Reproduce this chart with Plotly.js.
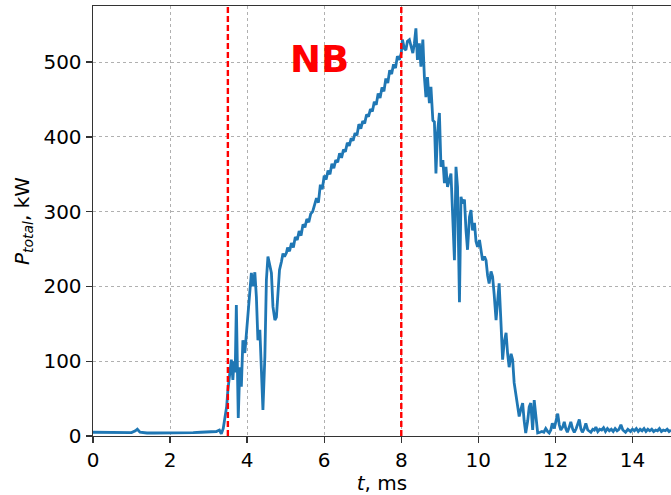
<!DOCTYPE html>
<html>
<head>
<meta charset="utf-8">
<script src="https://cdn.plot.ly/plotly-3.0.1.min.js"></script>
<style>html,body{margin:0;padding:0;background:#fff;}#chart{width:671px;height:495px;}</style>
</head>
<body>
<div id="chart"></div>
<script>
// time in ms
const tMs = [
0.0,0.2,0.4,0.6,0.8,1.0,1.1,1.15,1.22,1.4,1.6,1.8,2.0,2.2,2.4,2.6,2.8,3.0,3.1,3.2,3.28,3.33,3.38,3.43,3.47,3.5,
3.55,3.59,3.63,3.66,3.69,3.72,3.77,3.81,3.85,3.89,3.94,3.98,4.02,4.07,4.11,4.15,4.2,4.24,4.28,4.33,4.37,4.41,4.46,4.5,4.54,4.58,4.63,4.67,4.72,4.76,4.8,4.84,4.89,4.93,4.97,
5.02,5.05,5.10,5.15,5.20,5.25,5.30,5.35,5.40,5.45,5.50,5.55,5.60,5.65,5.70,5.75,5.80,5.85,5.90,5.95,6.00,6.05,6.10,6.15,6.20,6.25,6.30,6.35,6.40,6.45,6.50,6.55,6.60,6.65,6.70,6.75,6.80,6.85,6.90,6.95,7.00,7.05,7.10,7.15,7.20,7.25,7.30,7.35,7.40,7.45,7.50,7.55,7.60,7.65,7.70,7.75,7.80,7.85,7.90,7.95,8.00,
8.03,8.08,8.12,8.16,8.21,8.26,8.3,8.34,8.38,8.42,8.47,8.51,8.56,8.6,8.64,8.68,8.73,8.77,8.82,8.86,8.9,8.94,8.99,9.03,9.08,9.12,9.16,9.2,9.25,9.29,9.33,9.38,9.42,9.46,9.51,9.55,9.59,9.64,9.68,9.72,9.77,9.81,9.85,9.9,9.94,9.98,10.03,10.07,10.11,10.16,10.2,10.24,10.28,10.33,10.37,10.41,10.46,10.5,10.54,10.58,10.63,10.67,10.72,10.76,10.8,10.85,10.89,10.93,10.97,11.02,11.06,11.1,11.15,11.19,11.23,11.28,11.32,11.36,11.41,11.45,11.5,11.54,11.6,11.65,11.7,11.75,11.8,11.84,11.88,11.92,11.97,12.02,12.06,12.1,12.14,12.19,12.23,12.27,12.31,12.36,12.4,12.45,12.49,12.54,12.58,12.62,12.66,12.7,12.75,12.79,12.84,12.88,12.92,12.97,13.01,13.05,13.1,13.15,13.2,13.25,13.3,13.35,13.4,13.45,13.5,13.55,13.6,13.65,13.7,13.75,13.82,13.88,13.95,14.0,14.05,14.1,14.15,14.2,14.25,14.3,14.35,14.4,14.45,14.5,14.55,14.6,14.65,14.7,14.75,14.8,14.85,14.9,14.95,15.0
];
// total power in kW
const pKW = [
5,5,4.5,5,4.5,4.5,7,9,5,4,4,4,3.5,4,3.5,4.5,5,5,6,6,8,3,10,25,40,61,
84,102,75,100,85,175,24,92,66,128,111,138,159,190,218,200,219,186,128,142,79,35,106,209,240,232,218,173,155,159,199,222,233,244,240,
245,252,247,258,252,266,262,274,268,283,279,290,286,297,300,309,318,312,336,330,348,343,355,350,364,358,369,366,378,372,383,380,392,388,398,395,405,402,417,411,421,418,430,427,437,434,447,443,458,452,466,461,478,472,489,484,497,492,508,503,512,
530,518,516,528,530,520,512,525,545,503,525,494,530,480,453,480,445,467,422,420,351,405,432,360,369,338,360,333,345,351,300,235,360,333,179,320,311,316,275,249,293,302,275,285,260,253,262,245,235,240,235,215,204,220,213,190,155,180,204,160,102,125,138,110,92,110,102,71,57,45,26,35,44,20,4,20,39,44,8,48,20,4,5,6,5,10,6,4,8,17,10,20,30,15,8,12,19,10,5,12,19,9,5,10,15,22,10,5,10,17,8,6,5,9,8,12,6,9,8,11,6,10,7,9,6,10,7,9,15,8,5,9,6,9,7,10,6,9,7,10,6,9,7,9,6,8,7,10,6,8,7,9,6,8
];
const nbMarks = [3.5, 8.0];
const nbLabel = "NB";
const xTicks = [0,2,4,6,8,10,12,14];
const yTicks = [0,100,200,300,400,500];

const font = "DejaVu Sans, sans-serif";
const axisCol = "#000000";
const lineCol = "#333333";

const shapes = nbMarks.map(x => ({
  type: "line", xref: "x", yref: "paper", x0: x, x1: x, y0: 0, y1: 1,
  line: {color: "#ff0000", width: 2.4, dash: "6px,3px"}
}));

Plotly.newPlot("chart", [{
  x: tMs, y: pKW, type: "scatter", mode: "lines",
  line: {color: "#1f77b4", width: 2.8}, hoverinfo: "skip"
}], {
  width: 671, height: 495,
  margin: {l: 93, r: 0, t: 6, b: 59},
  paper_bgcolor: "#fff", plot_bgcolor: "#fff",
  showlegend: false,
  font: {family: font, color: axisCol, size: 20},
  xaxis: {
    range: [0, 15], tickvals: xTicks, ticktext: xTicks.map(String),
    ticks: "outside", ticklen: 6, tickwidth: 1.4, tickcolor: lineCol,
    showline: true, linecolor: lineCol, linewidth: 1.4, mirror: true,
    showgrid: true, gridcolor: "#b0b0b0", gridwidth: 1, griddash: "dot",
    zeroline: false, tickfont: {size: 20, family: font, color: axisCol},
    title: {text: "<i>t</i>, ms", font: {size: 20, family: font, color: axisCol}, standoff: 6}
  },
  yaxis: {
    range: [0, 575], tickvals: yTicks, ticktext: yTicks.map(String),
    ticks: "outside", ticklen: 6, tickwidth: 1.4, tickcolor: lineCol,
    showline: true, linecolor: lineCol, linewidth: 1.4,
    showgrid: true, gridcolor: "#b0b0b0", gridwidth: 1, griddash: "dot",
    zeroline: false, tickfont: {size: 20, family: font, color: axisCol},
    title: {text: "<i>P</i><sub><i>total</i></sub>, kW", font: {size: 20, family: font, color: axisCol}, standoff: 8}
  },
  shapes: shapes,
  annotations: [{
    text: "<b>" + nbLabel + "</b>", x: 5.88, y: 503, xref: "x", yref: "y",
    showarrow: false, font: {size: 37, color: "#ff0000", family: font},
    xanchor: "center", yanchor: "middle"
  }]
}, {displayModeBar: false, staticPlot: true});
</script>
</body>
</html>
